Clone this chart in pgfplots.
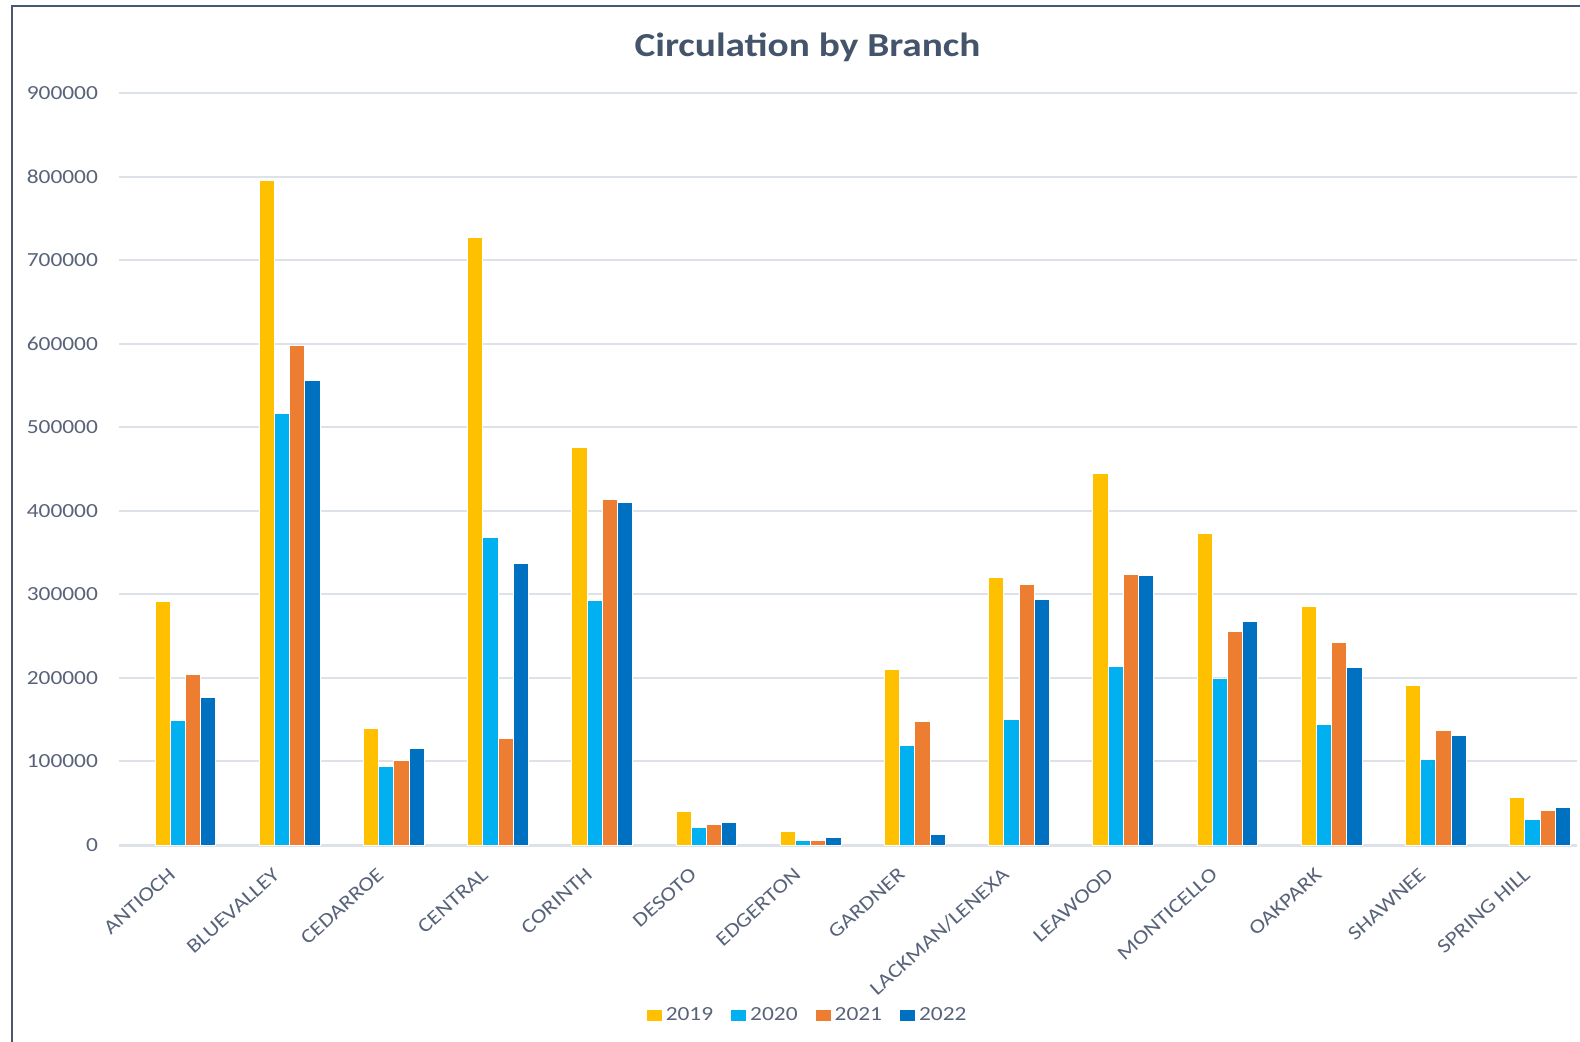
\documentclass[border=0pt]{standalone}
\usepackage{fontspec}
\setmainfont[FakeStretch=1.17]{Carlito}
\usepackage{pgfplots}
\usepackage{pgfplotstable}
\pgfplotsset{compat=1.18}
\definecolor{cA}{HTML}{FFC000}
\definecolor{cB}{HTML}{00B0F0}
\definecolor{cC}{HTML}{ED7D31}
\definecolor{cD}{HTML}{0070C0}
\definecolor{titlec}{HTML}{44546A}
\definecolor{labc}{HTML}{58637A}
\definecolor{gridc}{HTML}{DDE2E8}
\definecolor{framec}{HTML}{4A586E}

\pgfplotstableread{
x y2019 y2020 y2021 y2022
0 292000 149000 204000 176000
1 795000 516000 598000 556000
2 139000 94000 101000 115000
3 727000 368000 127000 337000
4 476000 293000 413000 410000
5 39500 21000 24500 27000
6 16500 5500 5500 9000
7 210000 119000 148000 13000
8 320000 150000 312000 294000
9 445000 214000 324000 323000
10 373000 199000 256000 268000
11 285000 144000 242000 213000
12 190500 102500 137000 131000
13 56500 30000 41500 45000
}\datatable

\begin{document}
\begin{tikzpicture}
\useasboundingbox (0pt,0pt) rectangle (790pt,-521pt);
\draw[color=framec, line width=1pt] (6pt,-530pt) -- (6pt,-2.85pt) -- (800pt,-2.85pt);
\node[anchor=base, text=titlec, font=\fontsize{16.8}{20}\selectfont\bfseries] at (403.75pt,-28.35pt) {Circulation by Branch};
\begin{axis}[
  at={(59.5pt,-422.5pt)}, anchor=south west,
  scale only axis,
  width=729pt, height=376pt,
  xmin=-0.638, xmax=13.354,
  ymin=0, ymax=900000,
  scaled y ticks=false,
  axis line style={draw=none},
  major tick length=0pt,
  ybar=0pt,
  bar width=7.6pt,
  xtick={0,...,13},
  xticklabels={ANTIOCH,BLUEVALLEY,CEDARROE,CENTRAL,CORINTH,DESOTO,EDGERTON,GARDNER,LACKMAN/LENEXA,LEAWOOD,MONTICELLO,OAKPARK,SHAWNEE,SPRING HILL},
  ytick={0,100000,...,900000},
  yticklabels={0,100000,200000,300000,400000,500000,600000,700000,800000,900000},
  ymajorgrids,
  grid style={color=gridc, line width=1pt},
  extra y ticks={0},
  extra y tick labels={},
  extra y tick style={grid style={color=gridc, line width=1.5pt}},
  tick label style={font=\fontsize{10}{12}\selectfont, text=labc},
  yticklabel style={xshift=-7pt},
  xticklabel style={xshift=-4pt, yshift=-11pt, rotate=42, anchor=east},
  legend style={at={(0.473,-0.2274)}, anchor=center, draw=none, fill=none,
    legend columns=4, font=\fontsize{10}{12}\selectfont, text=labc,
    /tikz/every even column/.append style={column sep=7pt}},
  legend image code/.code={\fill[#1, draw=none] (0pt,-2.6pt) rectangle (7.5pt,3pt);},
  every axis plot/.append style={draw=white, line width=0.5pt},
]
\addplot[fill=cA] table[x=x, y=y2019] {\datatable};
\addplot[fill=cB] table[x=x, y=y2020] {\datatable};
\addplot[fill=cC] table[x=x, y=y2021] {\datatable};
\addplot[fill=cD] table[x=x, y=y2022] {\datatable};
\legend{2019,2020,2021,2022}
\end{axis}
\end{tikzpicture}
\end{document}
